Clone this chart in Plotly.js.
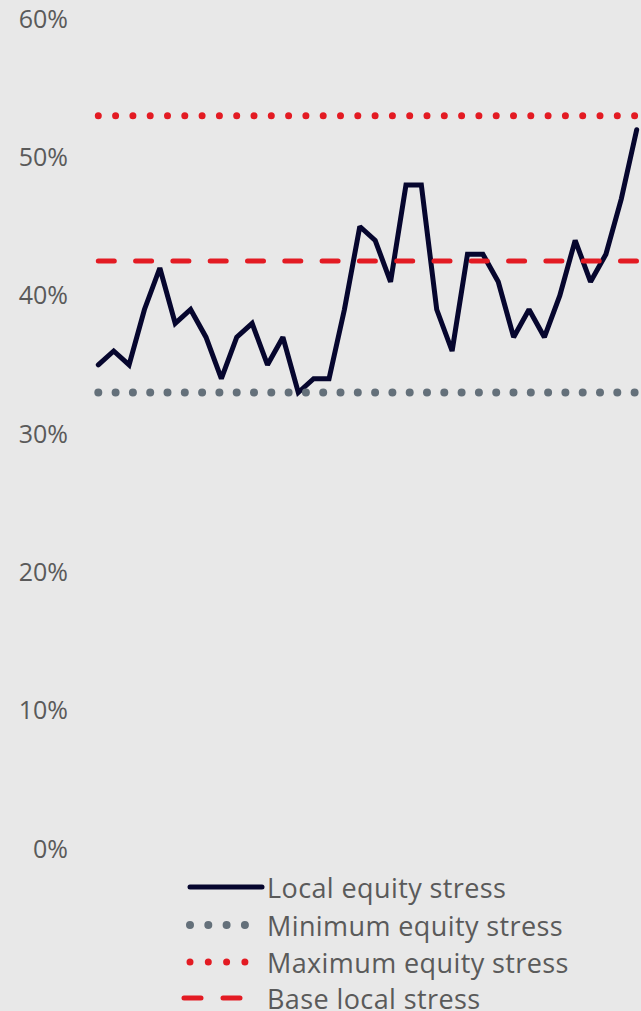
<!DOCTYPE html>
<html>
<head>
<meta charset="utf-8">
<script src="https://cdn.plot.ly/plotly-3.0.1.min.js"></script>
<style>
  html, body { margin: 0; padding: 0; background: #e8e8e8; }
  #chart { width: 641px; height: 1011px; }
  .js-line, .shapelayer path { stroke-linecap: round !important; }
  .annotation-text { letter-spacing: 0.4px; }
</style>
</head>
<body>
<div id="chart"></div>
<script>
// ---- data ----
var periods = [];
for (var i = 0; i < 36; i++) periods.push(i);
var localEquityStress = [0.35,0.36,0.35,0.39,0.42,0.38,0.39,0.37,0.34,0.37,0.38,0.35,
                         0.37,0.33,0.34,0.34,0.39,0.45,0.44,0.41,0.48,0.48,0.39,0.36,
                         0.43,0.43,0.41,0.37,0.39,0.37,0.40,0.44,0.41,0.43,0.47,0.52];
var minimumEquityStress = 0.33;
var maximumEquityStress = 0.53;
var baseLocalStress = 0.425;
var seriesNames = ["Local equity stress", "Minimum equity stress", "Maximum equity stress", "Base local stress"];
var yTickValues = [0, 0.1, 0.2, 0.3, 0.4, 0.5, 0.6];

// ---- styles ----
var navy = "#06062e", grey = "#64707a", red = "#e31b23", textGrey = "#5a5a5a";
var fontFam = "'Open Sans', Lato, sans-serif";
var W = 641, H = 1011, mL = 75, mR = 0, mT = 19, mB = 162;
var pw = W - mL - mR, ph = H - mT - mB;
function px(x) { return (x - mL) / pw; }
function py(y) { return (H - mB - y) / ph; }

function constSeries(v) { return periods.map(function () { return v; }); }

var traces = [
  { x: periods, y: localEquityStress, mode: "lines", name: seriesNames[0],
    line: { color: navy, width: 5 }, hoverinfo: "skip" },
  { x: periods, y: constSeries(minimumEquityStress), mode: "lines", name: seriesNames[1],
    line: { color: grey, width: 8, dash: "0px,17.3px" }, hoverinfo: "skip" },
  { x: periods, y: constSeries(maximumEquityStress), mode: "lines", name: seriesNames[2],
    line: { color: red, width: 7, dash: "0px,17.3px" }, hoverinfo: "skip" },
  { x: periods, y: constSeries(baseLocalStress), mode: "lines", name: seriesNames[3],
    line: { color: red, width: 5, dash: "16px,21.3px" }, hoverinfo: "skip" }
];

// manual legend
var legRows = [887, 925, 962, 998];
var legStyles = [
  { color: navy, width: 5, dash: "solid", x0: 190, x1: 262 },
  { color: grey, width: 8, dash: "0px,18.3px", x0: 190, x1: 246 },
  { color: red, width: 7, dash: "0px,18.3px", x0: 190, x1: 246 },
  { color: red, width: 5, dash: "17px,22px", x0: 184, x1: 240 }
];
var shapes = [], annotations = [];
seriesNames.forEach(function (n, i) {
  var s = legStyles[i];
  shapes.push({ type: "line", xref: "paper", yref: "paper",
    x0: px(s.x0), x1: px(s.x1), y0: py(legRows[i]), y1: py(legRows[i]),
    line: { color: s.color, width: s.width, dash: s.dash } });
  annotations.push({ xref: "paper", yref: "paper", x: px(265), y: py(legRows[i]),
    xanchor: "left", yanchor: "middle", showarrow: false, text: n,
    font: { family: fontFam, size: 27, color: textGrey } });
});

var layout = {
  width: W, height: H,
  margin: { l: mL, r: mR, t: mT, b: mB, pad: 0 },
  paper_bgcolor: "#e8e8e8", plot_bgcolor: "#e8e8e8",
  showlegend: false,
  xaxis: { visible: false, range: [-1.515, 35.28], fixedrange: true },
  yaxis: { range: [0, 0.6], tickvals: yTickValues, tickformat: ".0%",
    showgrid: false, zeroline: false, showline: false, ticks: "",
    ticklabelstandoff: 6,
    tickfont: { family: fontFam, size: 25, color: textGrey },
    fixedrange: true },
  shapes: shapes,
  annotations: annotations
};

Plotly.newPlot("chart", traces, layout, { staticPlot: true, displayModeBar: false });
</script>
</body>
</html>
